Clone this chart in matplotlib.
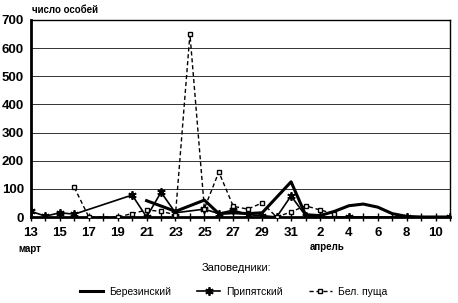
import numpy as np
import matplotlib
matplotlib.use("Agg")
import matplotlib.pyplot as plt

nan = np.nan

# days: 13..31 March, 1..11 April
days = list(range(13, 32)) + list(range(1, 12))
tick_labels = [str(d) if i % 2 == 0 else "" for i, d in enumerate(days)]

berezinsky = [nan, nan, nan, nan, nan, nan, nan, nan, 58, nan,
              20, nan, 60, 12, 15, 12, 15, nan, 125, 8,
              5, 20, 40, 46, 35, 12, 2, 0, 0, 0]
pripyatsky = [20, 3, 15, 10, nan, nan, nan, 78, 0, 88,
              15, nan, 28, 12, 25, 8, 5, 0, 75, 5,
              0, nan, 0, nan, nan, nan, 0, nan, nan, 0]
bel_pushcha = [nan, nan, nan, 105, 0, nan, 0, 12, 25, 20,
               8, 650, 30, 160, 38, 28, 50, 0, 18, 40,
               25, 12, nan, nan, nan, nan, nan, nan, nan, nan]

series_names = ["Березинский", "Припятский", "Бел. пуща"]

plt.rcParams['font.family'] = ['Liberation Sans', 'DejaVu Sans']

fig = plt.figure(figsize=(4.58, 3.03), dpi=100)
ax = fig.add_axes([31 / 458, 1 - 217 / 303, 419 / 458, 197 / 303])

x = np.arange(len(days))


def valid(vals):
    v = np.array(vals, dtype=float)
    m = ~np.isnan(v)
    return x[m], v[m]


xb, yb = valid(berezinsky)
ax.plot(xb, yb, color="black", lw=2.2, label=series_names[0], zorder=3)
xp, yp = valid(pripyatsky)
ax.plot(xp, yp, color="black", lw=1.2, marker=(6, 2, 0), ms=6, mew=1.3,
        label=series_names[1], zorder=4)
xq, yq = valid(bel_pushcha)
ax.plot(xq, yq, color="black", lw=1.0, ls=(0, (3, 2)), marker="s", ms=3.5,
        mfc="white", mec="black", mew=1.0, label=series_names[2], zorder=5)

ax.set_xlim(0, len(days) - 1)
ax.set_ylim(0, 700)
ax.set_yticks(range(0, 701, 100))
ax.set_xticks(x)
ax.set_xticklabels(tick_labels)
ax.yaxis.grid(True, color="#333333", lw=0.7)
ax.set_axisbelow(True)

for side in ["left", "bottom"]:
    ax.spines[side].set_linewidth(2.0)
for side in ["top", "right"]:
    ax.spines[side].set_linewidth(1.0)

ax.tick_params(axis="y", length=0, pad=5, labelsize=9.5)
ax.tick_params(axis="x", direction="inout", length=6, width=1.0,
               pad=4, labelsize=9.5)
for lbl in ax.get_xticklabels() + ax.get_yticklabels():
    lbl.set_fontweight("bold")

fig.text(32 / 458, 1 - 10 / 303, "число особей", fontsize=7,
         fontweight="bold", va="center", ha="left")
fig.text(30 / 458, 1 - 249 / 303, "март", fontsize=7,
         fontweight="bold", va="center", ha="center")
fig.text(327 / 458, 1 - 247 / 303, "апрель", fontsize=7,
         fontweight="bold", va="center", ha="center")
fig.text(236 / 458, 1 - 268 / 303, "Заповедники:", fontsize=8,
         va="center", ha="center")

fig.legend(loc="center", bbox_to_anchor=(0.51, 1 - 292 / 303), ncol=3,
           frameon=False, fontsize=7.5, handlelength=2.2,
           columnspacing=2.5, handletextpad=0.6)

fig.savefig("out.png", dpi=100)
